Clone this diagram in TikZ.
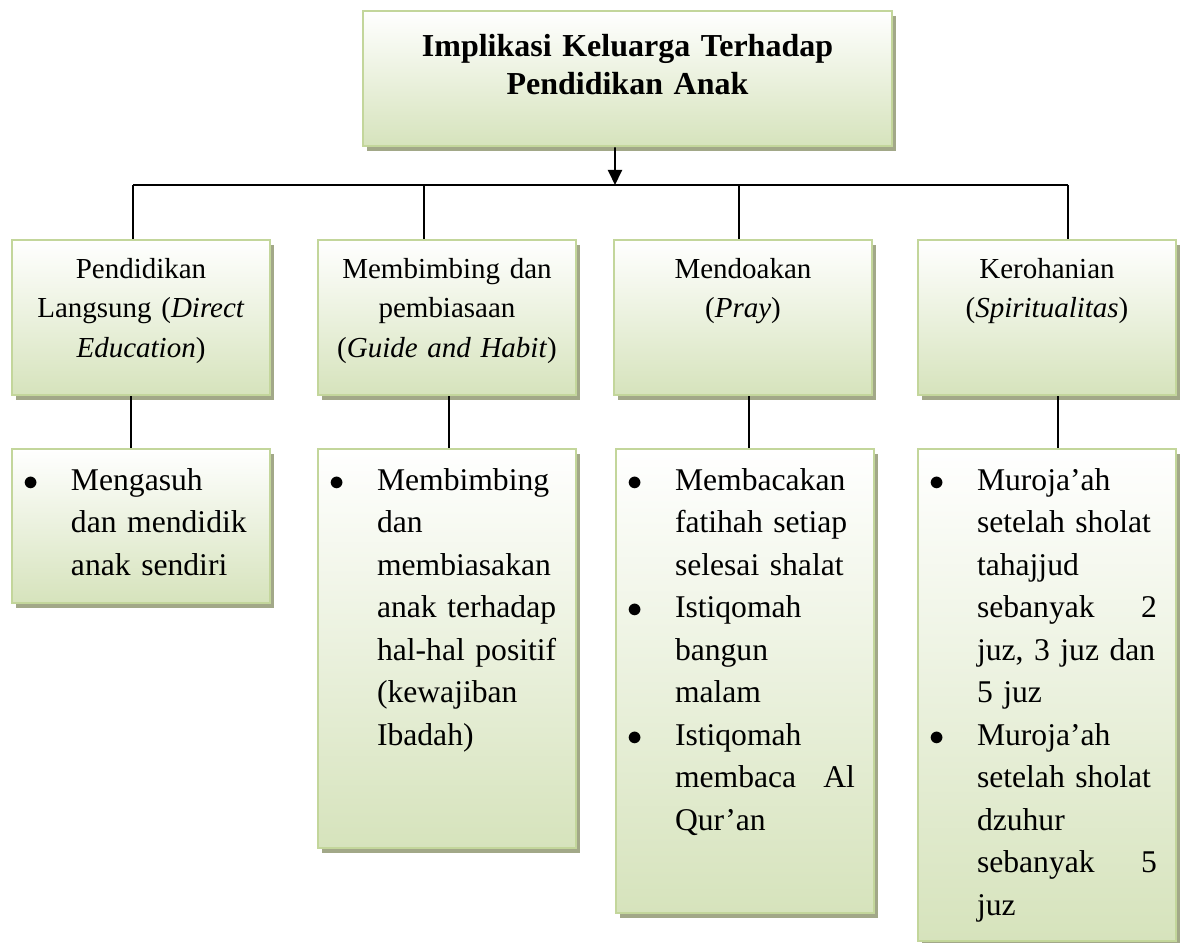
\documentclass[tikz,border=0pt]{standalone}
\usepackage{fontspec}
\setmainfont{Liberation Serif}
\usepackage{tikz}
\usetikzlibrary{positioning, arrows.meta, shadows}
\usepackage{xcolor}

\definecolor{boxline}{RGB}{195,214,155}
\definecolor{boxfill}{RGB}{214,227,188}
\definecolor{boxshade}{RGB}{162,168,136}

\tolerance=10000
\hbadness=10000
\hyphenpenalty=10000

% one bullet item of a detail box; \par goes between items
\newcommand{\butir}{\noindent\leftskip=1.18cm\rightskip=0.38cm
  \llap{$\bullet$\hspace{0.64cm}}}

\begin{document}
\begin{tikzpicture}[
  panel/.style={draw=boxline, line width=1.4pt, top color=white, bottom color=boxfill,
    drop shadow={shadow xshift=0.08cm, shadow yshift=-0.09cm, fill=boxshade, opacity=1},
    anchor=north, inner sep=0pt},
  judulbox/.style={panel, text width=10.58cm, align=center, text height=0.9cm,
    text depth=1.8cm, font=\fontsize{18.2}{21.6}\selectfont\bfseries},
  aspekbox/.style={panel, text width=4.4cm, minimum width=5.16cm, align=center,
    text height=0.76cm, text depth=2.34cm, font=\fontsize{16.5}{22.5}\selectfont},
  rincianbox/.style={panel, text width=5.16cm, text height=0.82cm, text depth=#1,
    font=\fontsize{18}{24.2}\selectfont},
  garis/.style={draw=black, line width=0.9pt},
  palang/.style={draw=black, line width=1.4pt},
  panah/.style={draw=black, line width=1.1pt, -{Triangle[length=0.3cm, width=0.28cm]}}
]
  \useasboundingbox (0,0) rectangle (23.72,-18.86);

  \node[judulbox] (judul) at (12.55,-0.2) {Implikasi Keluarga Terhadap\\ Pendidikan Anak};

  \node[aspekbox] (langsung) at (2.82,-4.78) {Pendidikan\\ Langsung (\textit{Direct}\\ \textit{Education})};
  \node[aspekbox] (bimbing) at (8.94,-4.78) {Membimbing dan\\ pembiasaan\\ (\textit{Guide and Habit})};
  \node[aspekbox] (doa) at (14.86,-4.78) {Mendoakan\\ (\textit{Pray})};
  \node[aspekbox] (rohani) at (20.94,-4.78) {Kerohanian\\ (\textit{Spiritualitas})};

  \node[rincianbox=2.26cm] (asuh) at (2.82,-8.96) {\butir Mengasuh\newline
    dan mendidik\linebreak anak sendiri\par};
  \node[rincianbox=7.16cm] (biasa) at (8.94,-8.96) {\butir Membimbing\newline
    dan\newline membiasakan\newline anak terhadap\newline hal-hal positif\newline
    (kewajiban\newline Ibadah)\par};
  \node[rincianbox=8.46cm] (baca) at (14.90,-8.96) {\butir Membacakan\newline
    fatihah setiap\linebreak selesai shalat\par
    \butir Istiqomah\newline bangun\newline malam\par
    \butir Istiqomah\newline membaca\hfill Al\newline Qur’an\par};
  \node[rincianbox=9.02cm] (muroja) at (20.94,-8.96) {\butir Muroja’ah\newline
    setelah sholat\linebreak tahajjud\newline sebanyak\hfill 2\newline
    juz, 3 juz dan\linebreak 5 juz\par
    \butir Muroja’ah\newline setelah sholat\linebreak dzuhur\newline
    sebanyak\hfill 5\newline juz\par};

  % Branch points on the bar and drops to the detail boxes.
  \coordinate (cabang) at (12.30,-3.70);
  \coordinate (cab1) at (2.66,-3.70);
  \coordinate (cab2) at (8.48,-3.70);
  \coordinate (cab3) at (14.78,-3.70);
  \coordinate (cab4) at (21.36,-3.70);
  \coordinate (turun1) at (2.62,0);
  \coordinate (turun2) at (8.98,0);
  \coordinate (turun3) at (14.98,0);
  \coordinate (turun4) at (21.16,0);

  \draw[panah] ([xshift=-0.25cm]judul.south) -- (cabang);
  \draw[palang] (cab1) -- (cab4);

  \draw[garis] (cab1) -- (cab1 |- langsung.north);
  \draw[garis] (cab2) -- (cab2 |- bimbing.north);
  \draw[garis] (cab3) -- (cab3 |- doa.north);
  \draw[garis] (cab4) -- (cab4 |- rohani.north);

  \draw[garis] (turun1 |- langsung.south) -- (turun1 |- asuh.north);
  \draw[garis] (turun2 |- bimbing.south) -- (turun2 |- biasa.north);
  \draw[garis] (turun3 |- doa.south) -- (turun3 |- baca.north);
  \draw[garis] (turun4 |- rohani.south) -- (turun4 |- muroja.north);
\end{tikzpicture}
\end{document}
